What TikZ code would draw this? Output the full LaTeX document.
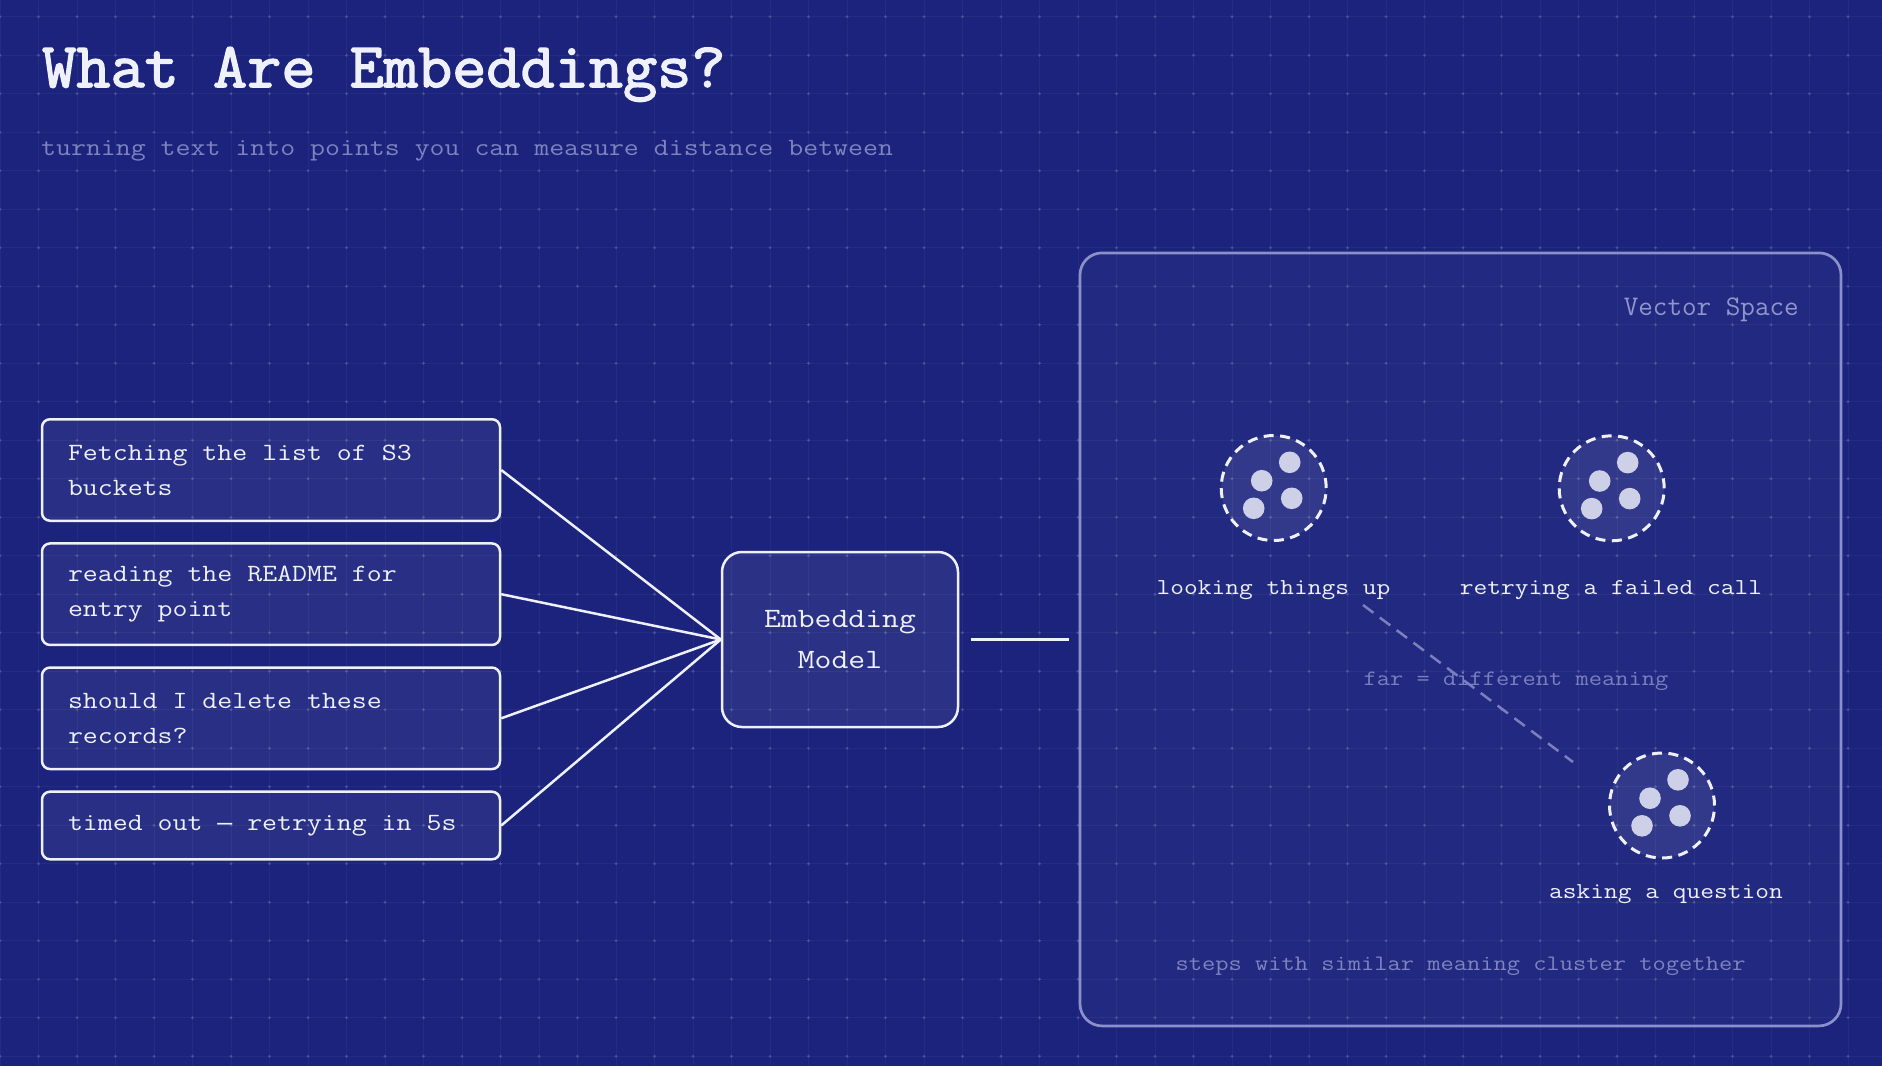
\documentclass[tikz,border=0pt]{standalone}
\usepackage{fontspec}
\usepackage{graphicx}
\setmainfont{Latin Modern Mono}[FakeStretch=1.17]
\newfontfamily\titlefont{Latin Modern Mono}[FakeStretch=1.168,FakeBold=2.5]
\usetikzlibrary{calc}
\definecolor{bgc}{HTML}{1B237D}
\definecolor{ink}{HTML}{EEF0FA}
\definecolor{dim}{HTML}{7D84C0}
\definecolor{panelline}{HTML}{8A90CA}
\definecolor{dotc}{HTML}{CDD0E6}
\definecolor{dashc}{HTML}{7A80BE}
\definecolor{vslabel}{HTML}{9096CC}
\begin{document}
\begin{tikzpicture}[x=1pt,y=-1pt,
  gridline/.style={draw=white,draw opacity=0.045,line width=1pt},
  griddot/.style={fill=white,fill opacity=0.16},
  textbox/.style={draw=ink,line width=2.5pt,rounded corners=8pt,fill=white,fill opacity=0.06,text opacity=1,
    text=ink,align=flush left,text width=406pt,inner xsep=26pt,inner ysep=0pt,font=\fontsize{24.8}{35}\selectfont},
  modelbox/.style={draw=ink,line width=2.5pt,rounded corners=20pt,fill=white,fill opacity=0.07,text opacity=1,
    text=ink,align=center,minimum width=236pt,minimum height=175pt,font=\fontsize{28}{41}\selectfont},
  panelbox/.style={draw=panelline,line width=2.7pt,rounded corners=22pt,fill=white,fill opacity=0.03,
    minimum width=761pt,minimum height=773pt,inner sep=0pt},
  cluster/.style={circle,minimum size=105pt,inner sep=0pt,draw=ink,line width=3pt,dash pattern=on 10pt off 6.5pt,
    fill=white,fill opacity=0.08},
  conn/.style={draw=ink,line width=2.5pt},
  farline/.style={draw=dashc,line width=2.5pt,dash pattern=on 13pt off 8pt},
  label/.style={text=ink,anchor=base,inner sep=0pt,font=\fontsize{22.8}{28}\selectfont},
  dimtext/.style={text=dim,inner sep=0pt,font=\fontsize{22}{28}\selectfont}
]
% background
\fill[bgc] (0,0) rectangle (1882,1066);
\useasboundingbox (0,0) rectangle (1882,1066);
\foreach \i in {0,...,48} {\draw[gridline] (\i*38.5,0) -- (\i*38.5,1066);}
\foreach \j in {0,...,27} {\draw[gridline] (0,16.7+\j*38.5) -- (1882,16.7+\j*38.5);}
\foreach \i in {0,...,48} {\foreach \j in {0,...,27} {\fill[griddot] (\i*38.5,16.7+\j*38.5) circle (1.6pt);}}

% title
\node[anchor=base west,inner sep=0pt,text=ink] (title) at (42,87)
  {\scalebox{1}[1.12]{\fontsize{56.8}{60}\titlefont What Are Embeddings?}};
\node[anchor=base west,inner sep=0pt,text=dim,font=\fontsize{24.8}{30}\selectfont] (subtitle) at (41,155)
  {turning text into points you can measure distance between};

% input boxes
\node[textbox,minimum height=101.5pt] (b1) at (271,470) {Fetching the list of S3\\buckets};
\node[textbox,minimum height=101.5pt] (b2) at (271,594.2) {reading the README for\\entry point};
\node[textbox,minimum height=101.5pt] (b3) at (271,718.3) {should I delete these\\records?};
\node[textbox,minimum height=67.6pt] (b4) at (271,825.5) {timed out {\fontsize{24.8}{35}\fontspec{Liberation Mono}—} retrying in 5s};

% model
\node[modelbox] (emb) at (840,639.5) {Embedding\\Model};
\foreach \b in {b1,b2,b3,b4} {\draw[conn] (\b.east) -- (emb.west);}

% vector space panel
\node[panelbox] (panel) at (1460.5,639.4) {};
\draw[conn] ([xshift=12pt]emb.east) -- ([xshift=-10pt]panel.west |- emb.east);
\node[anchor=base east,inner sep=0pt,text=vslabel] (vs) at (1799,315)
  {\scalebox{0.98}[1.15]{\fontsize{24.7}{30}\selectfont Vector Space}};

% clusters
\node[cluster] (c1) at (1273.7,488) {};
\node[cluster] (c2) at (1611.7,488.3) {};
\node[cluster] (c3) at (1662,805.5) {};
\foreach \c in {c1,c2,c3} {
  \foreach \dx/\dy in {16/-25.7,-12/-7.3,18/10.3,-20/20.3} {
    \fill[dotc] ($(\c)+(\dx,\dy)$) circle (10.8pt);
  }
}
\node[label] (l1) at (1273.5,594) {looking things up};
\node[label] (l2) at (1611,594) {retrying a failed call};
\node[label] (l3) at (1666,898) {asking a question};

% far line
\node[dimtext,anchor=base,text=dashc] (far) at (1516,685) {far = different meaning};
\coordinate (d1) at (1363,605);
\coordinate (d2) at (1573,762);
\draw[farline] (d1) -- (d2);

\node[dimtext,anchor=base] (note) at (1460.5,970) {steps with similar meaning cluster together};
\end{tikzpicture}
\end{document}
